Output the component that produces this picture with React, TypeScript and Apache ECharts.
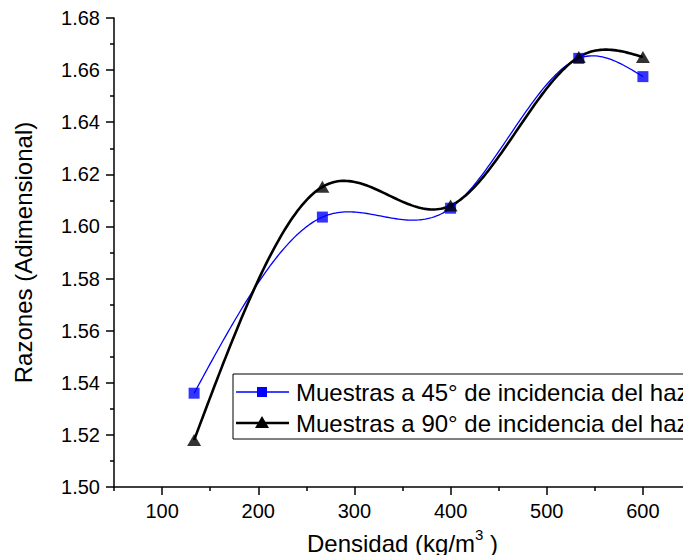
import React, { useEffect, useRef } from "react";
import * as echarts from "echarts";

const densidad = [133.3, 266.7, 400, 533.3, 600];
const razones45 = [1.536, 1.6036, 1.607, 1.6645, 1.6575];
const razones90 = [1.518, 1.6152, 1.608, 1.665, 1.665];
const xMajorTicks = [100, 200, 300, 400, 500, 600];
const xMinorTicks = [50, 150, 250, 350, 450, 550, 650];
const legendNames = [
  "Muestras a 45° de incidencia del haz",
  "Muestras a 90° de incidencia del haz",
];

const FONT = "Liberation Sans, Arial, sans-serif";

function naturalSpline(xs: number[], ys: number[]) {
  const n = xs.length;
  const h: number[] = [];
  for (let i = 0; i < n - 1; i++) h.push(xs[i + 1] - xs[i]);
  const M = new Array(n).fill(0);
  const a: number[] = new Array(n).fill(0);
  const b: number[] = new Array(n).fill(1);
  const c: number[] = new Array(n).fill(0);
  const d: number[] = new Array(n).fill(0);
  for (let i = 1; i < n - 1; i++) {
    a[i] = h[i - 1];
    b[i] = 2 * (h[i - 1] + h[i]);
    c[i] = h[i];
    d[i] = 6 * ((ys[i + 1] - ys[i]) / h[i] - (ys[i] - ys[i - 1]) / h[i - 1]);
  }
  const cp = new Array(n).fill(0);
  const dp = new Array(n).fill(0);
  cp[0] = c[0] / b[0];
  dp[0] = d[0] / b[0];
  for (let i = 1; i < n; i++) {
    const m = b[i] - a[i] * cp[i - 1];
    cp[i] = c[i] / m;
    dp[i] = (d[i] - a[i] * dp[i - 1]) / m;
  }
  M[n - 1] = dp[n - 1];
  for (let i = n - 2; i >= 0; i--) M[i] = dp[i] - cp[i] * M[i + 1];
  return (x: number) => {
    let i = 0;
    while (i < n - 2 && x > xs[i + 1]) i++;
    const hh = h[i];
    const A = (xs[i + 1] - x) / hh;
    const B = (x - xs[i]) / hh;
    return (
      A * ys[i] +
      B * ys[i + 1] +
      ((A * A * A - A) * M[i] + (B * B * B - B) * M[i + 1]) * (hh * hh) / 6
    );
  };
}

function curveSeries(ys: number[], color: string, width: number) {
  const f = naturalSpline(densidad, ys);
  return {
    type: "custom",
    xAxisIndex: 0,
    yAxisIndex: 0,
    silent: true,
    z: 2,
    data: [[densidad[0], ys[0]]],
    renderItem: (_params: any, api: any) => {
      const pts: number[][] = [];
      const x0 = densidad[0];
      const x1 = densidad[densidad.length - 1];
      const steps = 200;
      for (let k = 0; k <= steps; k++) {
        const x = x0 + ((x1 - x0) * k) / steps;
        pts.push(api.coord([x, f(x)]));
      }
      return {
        type: "polyline",
        shape: { points: pts },
        style: { stroke: color, lineWidth: width, fill: "none" },
      };
    },
  };
}

export default function App() {
  const ref = useRef<HTMLDivElement>(null);
  useEffect(() => {
    if (!ref.current) return;
    const chart = echarts.init(ref.current, null, { renderer: "svg" });
    const option: any = {
      animation: false,
      backgroundColor: "#ffffff",
      textStyle: { fontFamily: FONT },
      grid: {
        left: 114,
        top: 18,
        bottom: 68,
        right: -8,
        containLabel: false,
        outerBoundsMode: "none",
      },
      xAxis: [
        {
          type: "value",
          min: 50,
          max: 650,
          position: "bottom",
          splitLine: { show: false },
          axisLine: { show: true, onZero: false, lineStyle: { color: "#000", width: 1.5 } },
          axisTick: {
            show: true,
            inside: false,
            length: 8,
            customValues: xMajorTicks,
            lineStyle: { color: "#000", width: 1.5 },
          },
          axisLabel: {
            customValues: xMajorTicks,
            margin: 14,
            fontSize: 20,
            color: "#000",
            fontFamily: FONT,
          },
          name: "{a|Densidad (kg/m}{b|3}{a| )}",
          nameLocation: "middle",
          nameGap: 40,
          nameTextStyle: {
            rich: {
              a: { fontSize: 24, fontFamily: FONT, color: "#000", lineHeight: 28, verticalAlign: "bottom" },
              b: { fontSize: 15, fontFamily: FONT, color: "#000", lineHeight: 28, verticalAlign: "top" },
            },
          },
        },
        {
          type: "value",
          min: 50,
          max: 650,
          position: "bottom",
          gridIndex: 0,
          splitLine: { show: false },
          axisLine: { show: false },
          axisTick: {
            show: true,
            inside: false,
            length: 4,
            customValues: xMinorTicks,
            lineStyle: { color: "#000", width: 1.5 },
          },
          axisLabel: { show: false },
        },
      ],
      yAxis: {
        type: "value",
        min: 1.5,
        max: 1.68,
        interval: 0.02,
        splitLine: { show: false },
        axisLine: { show: true, onZero: false, lineStyle: { color: "#000", width: 1.5 } },
        axisTick: { show: true, inside: false, length: 8, lineStyle: { color: "#000", width: 1.5 } },
        minorTick: { show: true, splitNumber: 2, length: 4, lineStyle: { color: "#000", width: 1.5 } },
        axisLabel: {
          margin: 14,
          fontSize: 20,
          color: "#000",
          fontFamily: FONT,
          formatter: (v: number) => v.toFixed(2),
        },
        name: "Razones (Adimensional)",
        nameLocation: "middle",
        nameGap: 79,
        nameTextStyle: { fontSize: 24, color: "#000", fontFamily: FONT },
      },
      series: [
        curveSeries(razones45, "#0000ff", 1.3),
        curveSeries(razones90, "#000000", 2.6),
        {
          type: "scatter",
          name: legendNames[0],
          data: densidad.map((x, i) => [x, razones45[i]]),
          symbol: "rect",
          symbolSize: 11,
          itemStyle: { color: "#0000ff" },
          z: 3,
        },
        {
          type: "scatter",
          name: legendNames[1],
          data: densidad.map((x, i) => [x, razones90[i]]),
          symbol: "triangle",
          symbolSize: [14, 12],
          itemStyle: { color: "#000000" },
          z: 4,
        },
      ],
      graphic: [
        {
          type: "group",
          z: 100,
          children: [
            {
              type: "rect",
              shape: { x: 233, y: 374, width: 520, height: 65 },
              style: { fill: "#ffffff", stroke: "#000", lineWidth: 1 },
            },
            {
              type: "line",
              shape: { x1: 236, y1: 392, x2: 289, y2: 392 },
              style: { stroke: "#0000ff", lineWidth: 1.3 },
            },
            {
              type: "rect",
              shape: { x: 257, y: 387, width: 10, height: 10 },
              style: { fill: "#0000ff" },
            },
            {
              type: "line",
              shape: { x1: 236, y1: 423, x2: 289, y2: 423 },
              style: { stroke: "#000", lineWidth: 2.6 },
            },
            {
              type: "polygon",
              shape: { points: [[262, 416], [269, 428], [255, 428]] },
              style: { fill: "#000" },
            },
            {
              type: "text",
              x: 296,
              y: 392,
              style: {
                text: legendNames[0],
                fontSize: 24,
                fontFamily: FONT,
                fill: "#000",
                verticalAlign: "middle",
                align: "left",
              },
            },
            {
              type: "text",
              x: 296,
              y: 423,
              style: {
                text: legendNames[1],
                fontSize: 24,
                fontFamily: FONT,
                fill: "#000",
                verticalAlign: "middle",
                align: "left",
              },
            },
          ],
        },
      ],
    };
    chart.setOption(option);
    return () => chart.dispose();
  }, []);
  return <div ref={ref} style={{ width: 683, height: 555, position: "absolute", left: 0, top: 0 }} />;
}
